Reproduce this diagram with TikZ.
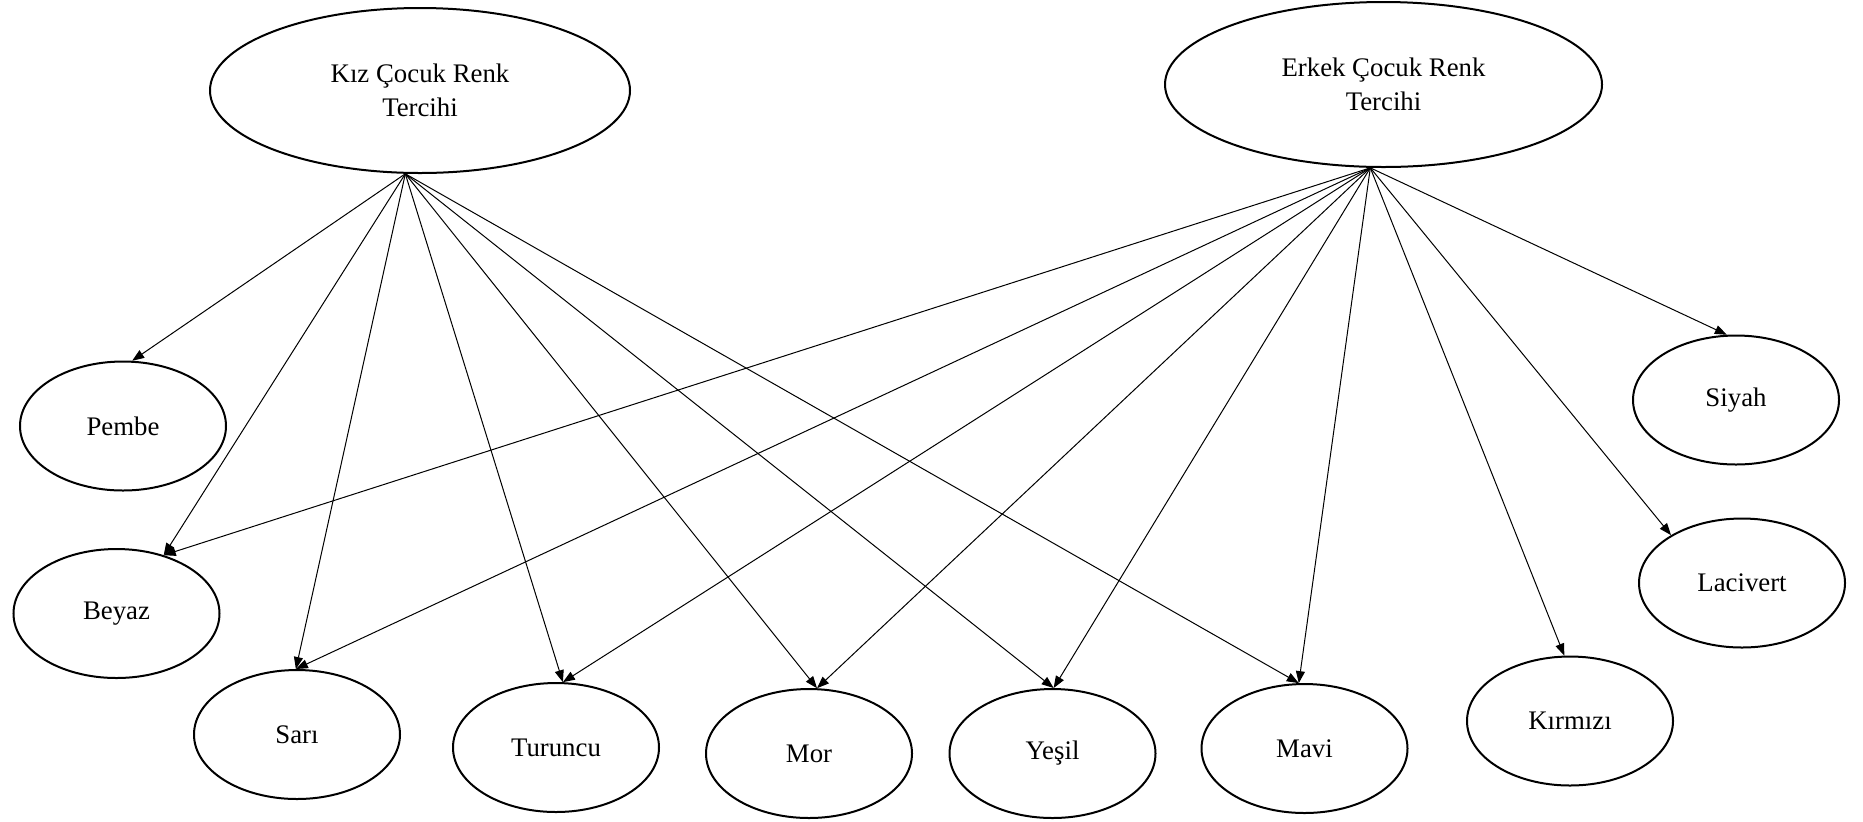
\documentclass[tikz,border=0pt]{standalone}
\usepackage{fontspec}
\setmainfont{Liberation Serif}
\usetikzlibrary{shapes.geometric,arrows.meta}
\begin{document}
\begin{tikzpicture}[x=0.5pt,y=-0.5pt,
  oval/.style={draw, ellipse, line width=1pt, inner sep=0pt,
    minimum width=103pt, minimum height=64.5pt,
    font=\fontsize{13.4}{17}\selectfont, align=center},
  bigoval/.style={oval, minimum height=82.5pt},
  link/.style={line width=0.5pt, -{Triangle[length=6pt,width=4.5pt]}}]
\useasboundingbox[fill=white] (0,0) rectangle (1863,821);

\node[bigoval, minimum width=210pt] (kiz) at (420,90.5) {Kız Çocuk Renk\\Tercihi};
\node[bigoval, minimum width=218.5pt] (erkek) at (1383.5,84.5) {Erkek Çocuk Renk\\Tercihi};

\node[oval] (pembe) at (123,426) {Pembe};
\node[oval] (beyaz) at (116.5,613.5) {Beyaz};
\node[oval] (sari) at (297,734.5) {Sarı};
\node[oval] (turuncu) at (556,747.5) {Turuncu};
\node[oval] (mor) at (809,753.5) {Mor};
\node[oval] (yesil) at (1052.5,753.5) {Yeşil};
\node[oval] (mavi) at (1304.5,748.5) {Mavi};
\node[oval] (kirmizi) at (1570,721) {Kırmızı};
\node[oval] (lacivert) at (1742,583) {Lacivert};
\node[oval] (siyah) at (1736,400) {Siyah};

\coordinate (ks) at (kiz.260);
\coordinate (es) at (erkek.261);

\draw[link] (ks) -- (pembe.82);
\draw[link] (ks) -- (beyaz.51);
\draw[link] (ks) -- (sari.91);
\draw[link] (ks) -- (turuncu.84);
\draw[link] (ks) -- (mor.83);
\draw[link] (ks) -- (yesil.89);
\draw[link] (ks) -- (mavi.95);

\draw[link] (es) -- (beyaz.51);
\draw[link] (es) -- (sari.91);
\draw[link] (es) -- (turuncu.84);
\draw[link] (es) -- (mor.83);
\draw[link] (es) -- (yesil.89);
\draw[link] (es) -- (mavi.95);
\draw[link] (es) -- (kirmizi.95);
\draw[link] (es) -- (lacivert.146);
\draw[link] (es) -- (siyah.98);
\end{tikzpicture}
\end{document}
